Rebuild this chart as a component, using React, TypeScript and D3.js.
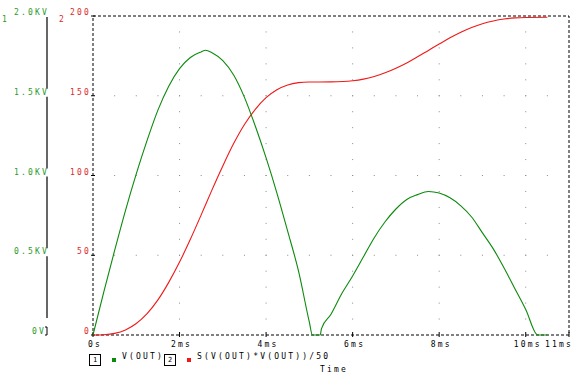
import * as d3 from 'd3';
import { useEffect } from 'react';

// V(OUT) in kV
const vTime = [0, 0.25, 0.5, 0.75, 1.0, 1.25, 1.5, 1.75, 2.0, 2.25, 2.5, 2.6, 2.75, 3.0, 3.25, 3.5, 3.75, 4.0, 4.25, 4.5, 4.75, 5.0, 5.07, 5.25, 5.28, 5.5, 5.75, 6.0, 6.25, 6.5, 6.75, 7.0, 7.25, 7.5, 7.75, 8.0, 8.25, 8.5, 8.75, 9.0, 9.25, 9.5, 9.75, 10.0, 10.28, 10.5];
const vOut = [0, 0.27, 0.53, 0.78, 1.01, 1.22, 1.41, 1.56, 1.67, 1.74, 1.775, 1.785, 1.77, 1.72, 1.63, 1.49, 1.31, 1.11, 0.89, 0.65, 0.4, 0.08, 0, 0, 0.04, 0.13, 0.26, 0.37, 0.49, 0.61, 0.71, 0.79, 0.85, 0.88, 0.9, 0.89, 0.86, 0.81, 0.74, 0.64, 0.54, 0.42, 0.29, 0.16, 0, 0];

// S(V(OUT)*V(OUT))/50
const sTime = [0, 0.25, 0.5, 0.75, 1.0, 1.25, 1.5, 1.75, 2.0, 2.25, 2.5, 2.75, 3.0, 3.25, 3.5, 3.75, 4.0, 4.25, 4.5, 4.75, 5.0, 5.5, 6.0, 6.25, 6.5, 6.75, 7.0, 7.25, 7.5, 7.75, 8.0, 8.25, 8.5, 8.75, 9.0, 9.25, 9.5, 9.75, 10.0, 10.5];
const sVal = [0, 0.2, 1.0, 3.2, 7.2, 13.4, 22, 33, 45.7, 60, 75.3, 91, 106, 120, 132, 141.5, 148.8, 153.8, 156.8, 158.2, 158.6, 158.7, 159.4, 160.4, 162.1, 164.4, 167.3, 170.6, 174.4, 178.4, 182.4, 186.3, 189.8, 192.8, 195.2, 196.9, 198.1, 198.8, 199.1, 199.2];

const xTicks = [0, 2, 4, 6, 8, 10, 11];
const xLabels = ['0s', '2ms', '4ms', '6ms', '8ms', '10ms', '11ms'];
const kvTicks = [0, 0.5, 1.0, 1.5, 2.0];
const kvLabels = ['0V', '0.5KV', '1.0KV', '1.5KV', '2.0KV'];
const redTicks = [0, 50, 100, 150, 200];
const seriesNames = ['V(OUT)', 'S(V(OUT)*V(OUT))/50'];

const GREEN = '#0b8a0b';
const GREEN_TXT = '#2a9a2a';
const RED = '#f01818';
const RED_TXT = '#e02828';
const FONT = { fontFamily: '"DejaVu Sans Mono", monospace', fontSize: 8, letterSpacing: 2.2 };

export default function App() {
  useEffect(() => {
    document.body.style.margin = '0';
  }, []);

  const W = 577, H = 390;
  const left = 93, right = 569, top = 16, bottom = 335;
  const x = d3.scaleLinear().domain([0, 11]).range([left, right]);
  const yKV = d3.scaleLinear().domain([0, 2]).range([bottom, top]);
  const yS = d3.scaleLinear().domain([0, 200]).range([bottom, top]);

  const greenPath = d3.line<number>().x((d, i) => x(vTime[i])).y(d => yKV(d)).curve(d3.curveMonotoneX)(vOut) || '';
  const redPath = d3.line<number>().x((d, i) => x(sTime[i])).y(d => yS(d)).curve(d3.curveMonotoneX)(sVal) || '';

  // grid dots
  const dots: [number, number][] = [];
  xTicks.filter(t => t > 0 && t < 11).forEach(t => {
    d3.range(10, 200, 10).forEach(v => dots.push([x(t), yS(v)]));
  });
  redTicks.filter(v => v > 0 && v < 200).forEach(v => {
    d3.range(0.5, 11, 0.5).forEach(t => dots.push([x(t), yS(v)]));
  });

  // left kV axis, broken where labels sit
  const axX = 47;
  const segs: [number, number][] = [];
  const sorted = [...kvTicks].sort((a, b) => b - a);
  for (let i = 0; i < sorted.length - 1; i++) {
    const y0 = yKV(sorted[i]) + 1;
    const last = i === sorted.length - 2;
    const y1 = last ? yKV(sorted[i + 1]) - 17 : yKV(sorted[i + 1]) - 7;
    segs.push([y0, y1]);
  }

  return (
    <svg width={W} height={H} style={{ position: 'absolute', left: 0, top: 0, background: '#fff' }}>
      <rect x={0} y={0} width={W} height={H} fill="#fff" />
      {dots.map(([a, b], i) => (
        <rect key={i} x={a - 0.5} y={b - 0.5} width={1} height={1} fill="#8a8a8a" />
      ))}
      <rect x={left} y={top} width={right - left} height={bottom - top} fill="none" stroke="#000" strokeWidth={1} strokeDasharray="3,2" />

      {/* x ticks */}
      {xTicks.map((t, i) => (
        <g key={t}>
          <line x1={x(t)} x2={x(t)} y1={bottom - 3} y2={bottom + 2} stroke="#000" strokeWidth={1} />
          <text x={i === xTicks.length - 1 ? x(t) + 4 : x(t) + 2} y={347} textAnchor={i === xTicks.length - 1 ? 'end' : 'middle'} fill="#000" style={FONT}>{xLabels[i]}</text>
        </g>
      ))}

      {/* red axis */}
      {redTicks.map(v => (
        <g key={v}>
          <line x1={left - 2} x2={left + 2} y1={yS(v)} y2={yS(v)} stroke="#000" strokeWidth={1} />
          <text x={91} y={yS(v) - 1} textAnchor="end" fill={RED_TXT} style={FONT}>{v}</text>
        </g>
      ))}
      <text x={59} y={22} fill={RED_TXT} style={FONT}>2</text>

      {/* green axis */}
      {segs.map(([a, b], i) => (
        <line key={i} x1={axX} x2={axX} y1={a} y2={b} stroke="#000" strokeWidth={1.2} />
      ))}
      <path d={`M${axX - 2},${yKV(0) - 8}H${axX}V${yKV(0)}H${axX - 2}`} fill="none" stroke="#000" strokeWidth={1} />
      {kvTicks.map((v, i) => (
        <text key={v} x={i === 0 ? 46 : 49} y={yKV(v) - 1} textAnchor="end" fill={GREEN_TXT} style={FONT}>{kvLabels[i]}</text>
      ))}
      <text x={2} y={22} fill={GREEN_TXT} style={FONT}>1</text>

      {/* traces */}
      <path d={redPath} fill="none" stroke={RED} strokeWidth={1.1} />
      <path d={greenPath} fill="none" stroke={GREEN} strokeWidth={1.1} />

      {/* legend */}
      <rect x={89.5} y={354.5} width={11} height={11} fill="none" stroke="#000" strokeWidth={1} />
      <text x={95} y={362} textAnchor="middle" fill="#000" style={{ ...FONT, fontSize: 7, letterSpacing: 0 }}>1</text>
      <rect x={112} y={358} width={4} height={4} fill={GREEN} />
      <text x={122} y={359} fill="#000" style={FONT}>{seriesNames[0]}</text>
      <rect x={164.5} y={354.5} width={11} height={11} fill="none" stroke="#000" strokeWidth={1} />
      <text x={170} y={362} textAnchor="middle" fill="#000" style={{ ...FONT, fontSize: 7, letterSpacing: 0 }}>2</text>
      <rect x={187} y={358} width={4} height={4} fill={RED} />
      <text x={197} y={359} fill="#000" style={FONT}>{seriesNames[1]}</text>
      <text x={334} y={372} textAnchor="middle" fill="#000" style={FONT}>Time</text>
    </svg>
  );
}
